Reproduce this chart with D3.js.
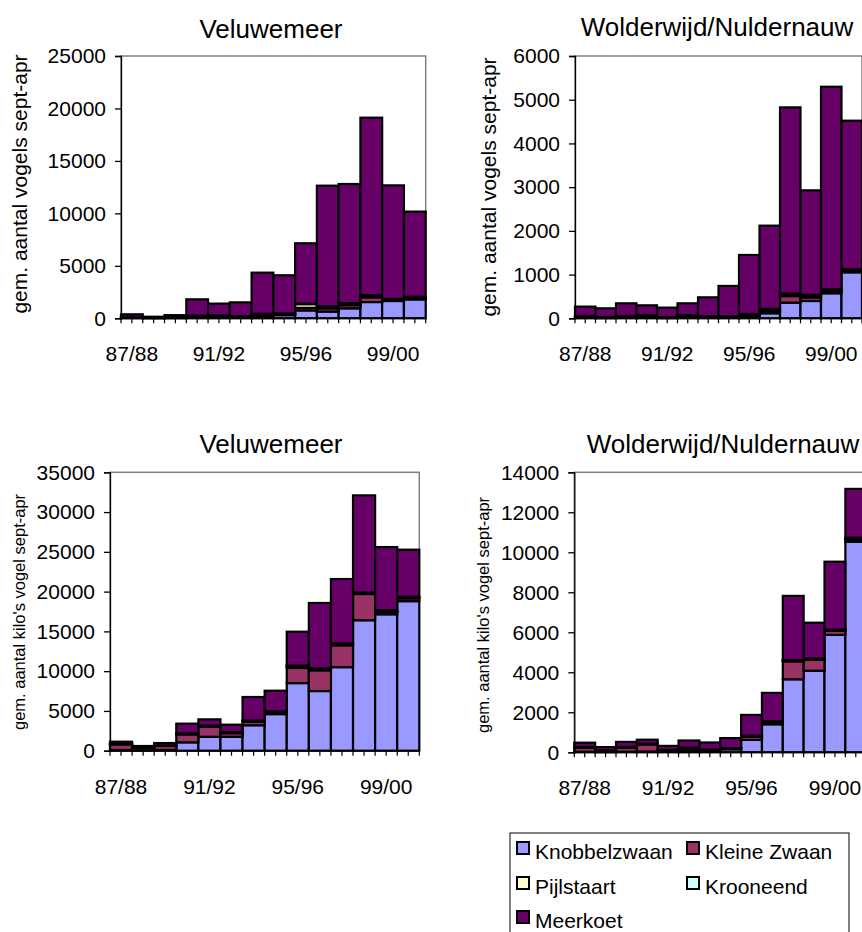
<!DOCTYPE html>
<html>
<head>
<meta charset="utf-8">
<script src="https://cdn.jsdelivr.net/npm/d3@7"></script>
<style>
  body { margin: 0; background: #fff; }
  svg { display: block; font-family: "Liberation Sans", Arial, sans-serif; }
</style>
</head>
<body>
<svg width="862" height="932"></svg>
<script>
// seizoenen sept-apr
var seasons = ["87/88", "88/89", "89/90", "90/91", "91/92", "92/93", "93/94",
               "94/95", "95/96", "96/97", "97/98", "98/99", "99/00", "00/01"];
var shownSeasons = ["87/88", "91/92", "95/96", "99/00"];
var species = ["Knobbelzwaan", "Kleine Zwaan", "Pijlstaart", "Krooneend", "Meerkoet"];
var speciesColors = ["#9999ff", "#993366", "#ffffcc", "#ccffff", "#660066"];

// Veluwemeer - aantal vogels
var velAantalKnobbel = [30, 10, 20, 60, 80, 60, 200, 300, 750, 640, 950, 1550, 1650, 1800];
var velAantalKleine  = [40, 20, 40, 100, 100, 80, 100, 60, 250, 300, 300, 450, 50, 100];
var velAantalPijl    = [10, 5, 10, 20, 20, 20, 40, 40, 350, 150, 150, 100, 50, 50];
var velAantalKroon   = [20, 10, 20, 80, 80, 60, 100, 60, 50, 50, 50, 100, 100, 100];
var velAantalMeer    = [280, 105, 210, 1550, 1120, 1300, 3910, 3640, 5750, 11500, 11350, 16920, 10820, 8120];

// Wolderwijd/Nuldernauw - aantal vogels
var wolAantalKnobbel = [10, 5, 10, 10, 5, 10, 10, 10, 20, 115, 358, 396, 572, 1052];
var wolAantalKleine  = [20, 10, 20, 40, 10, 20, 10, 10, 20, 30, 150, 80, 30, 20];
var wolAantalPijl    = [5, 5, 5, 5, 5, 5, 5, 5, 10, 20, 20, 20, 20, 20];
var wolAantalKroon   = [20, 10, 20, 20, 10, 40, 20, 20, 50, 50, 40, 40, 40, 30];
var wolAantalMeer    = [212, 199, 288, 222, 214, 268, 435, 695, 1348, 1904, 4257, 2391, 4635, 3398];

// Veluwemeer - kilo's vogel
var velKiloKnobbel = [100, 50, 100, 1050, 1750, 1750, 3200, 4600, 8500, 7500, 10500, 16400, 17150, 18800];
var velKiloKleine  = [700, 300, 500, 1000, 1250, 450, 450, 200, 1900, 2600, 2750, 3300, 300, 350];
var velKiloPijl    = [20, 10, 20, 100, 100, 100, 100, 100, 200, 150, 150, 100, 100, 100];
var velKiloKroon   = [20, 10, 20, 50, 50, 50, 50, 50, 100, 100, 100, 100, 100, 100];
var velKiloMeer    = [290, 220, 320, 1200, 790, 920, 2950, 2590, 4260, 8220, 8080, 12200, 7950, 5920];

// Wolderwijd/Nuldernauw - kilo's vogel
var wolKiloKnobbel = [30, 10, 30, 40, 20, 80, 50, 150, 620, 1400, 3650, 4080, 5870, 10530];
var wolKiloKleine  = [200, 60, 200, 350, 80, 120, 50, 20, 150, 60, 900, 550, 200, 100];
var wolKiloPijl    = [20, 10, 20, 20, 10, 20, 20, 20, 30, 40, 30, 30, 30, 50];
var wolKiloKroon   = [20, 10, 20, 20, 10, 20, 20, 20, 30, 50, 30, 30, 30, 50];
var wolKiloMeer    = [210, 170, 250, 200, 200, 350, 350, 500, 1040, 1420, 3210, 1790, 3400, 2440];

var svg = d3.select("svg");
var font = "Liberation Sans, Arial, sans-serif";

var panels = [
  { title: "Veluwemeer", tx: 271, ty: 38, ylab: "gem. aantal vogels sept-apr", ylabSize: 21, lx: 27, ly: 184,
    max: 25000, step: 5000, left: 121, right: 425.7, top: 56, bottom: 318.3, lblY: 361,
    series: [velAantalKnobbel, velAantalKleine, velAantalPijl, velAantalKroon, velAantalMeer] },
  { title: "Wolderwijd/Nuldernauw", tx: 717, ty: 36, ylab: "gem. aantal vogels sept-apr", ylabSize: 21, lx: 496, ly: 187,
    max: 6000, step: 1000, left: 575, right: 862, top: 56, bottom: 318.3, lblY: 361,
    series: [wolAantalKnobbel, wolAantalKleine, wolAantalPijl, wolAantalKroon, wolAantalMeer] },
  { title: "Veluwemeer", tx: 271, ty: 453, ylab: "gem. aantal kilo's vogel sept-apr", ylabSize: 16.5, lx: 25, ly: 612,
    max: 35000, step: 5000, left: 110, right: 419.3, top: 472.3, bottom: 750.7, lblY: 794,
    series: [velKiloKnobbel, velKiloKleine, velKiloPijl, velKiloKroon, velKiloMeer] },
  { title: "Wolderwijd/Nuldernauw", tx: 723, ty: 453, ylab: "gem. aantal kilo's vogel sept-apr", ylabSize: 16.5, lx: 489, ly: 615,
    max: 14000, step: 2000, left: 574.3, right: 866.2, top: 472.3, bottom: 752.3, lblY: 795,
    series: [wolKiloKnobbel, wolKiloKleine, wolKiloPijl, wolKiloKroon, wolKiloMeer] }
];

panels.forEach(function(p) {
  var g = svg.append("g");

  var x = d3.scaleBand().domain(seasons).range([p.left, p.right]).padding(0);
  var y = d3.scaleLinear().domain([0, p.max]).range([p.bottom, p.top]);

  var rows = seasons.map(function(s, i) {
    var row = { season: s };
    species.forEach(function(sp, k) { row[sp] = p.series[k][i]; });
    return row;
  });
  var stacked = d3.stack().keys(species)(rows);

  // plot area frame (grey, like excel)
  g.append("rect")
    .attr("x", p.left).attr("y", p.top)
    .attr("width", p.right - p.left).attr("height", p.bottom - p.top)
    .attr("fill", "none").attr("stroke", "#808080").attr("stroke-width", 1.5);

  g.selectAll("g.layer")
    .data(stacked)
    .enter().append("g")
    .attr("class", "layer")
    .attr("fill", function(d, i) { return speciesColors[i]; })
    .selectAll("rect")
    .data(function(d) { return d; })
    .enter().append("rect")
    .attr("x", function(d) { return x(d.data.season); })
    .attr("width", x.bandwidth())
    .attr("y", function(d) { return y(d[1]); })
    .attr("height", function(d) { return y(d[0]) - y(d[1]); })
    .attr("stroke", "#000")
    .attr("stroke-width", 2.2);

  // y axis
  var yAxis = d3.axisLeft(y)
    .tickValues(d3.range(0, p.max + 1, p.step))
    .tickSize(6).tickPadding(9)
    .tickFormat(d3.format("d"));
  var ya = g.append("g").attr("transform", "translate(" + p.left + ",0)").call(yAxis);
  ya.select(".domain").attr("stroke", "#000").attr("stroke-width", 1.3);
  ya.selectAll(".tick line").attr("stroke-width", 1.3);
  ya.selectAll("text").attr("font-size", 21).attr("font-family", font).attr("fill", "#000");

  // x axis: ticks every half category, labels every 4th season
  var half = x.bandwidth() / 2;
  g.append("line")
    .attr("x1", p.left).attr("x2", p.right)
    .attr("y1", p.bottom).attr("y2", p.bottom)
    .attr("stroke", "#000").attr("stroke-width", 1.5);
  g.selectAll("line.xt")
    .data(d3.range(0, seasons.length * 2 + 1))
    .enter().append("line")
    .attr("class", "xt")
    .attr("x1", function(i) { return p.left + i * half; })
    .attr("x2", function(i) { return p.left + i * half; })
    .attr("y1", p.bottom).attr("y2", p.bottom + 5)
    .attr("stroke", "#000").attr("stroke-width", 1.2);
  g.selectAll("text.xl")
    .data(shownSeasons)
    .enter().append("text")
    .attr("class", "xl")
    .attr("x", function(d) { return x(d) + half; })
    .attr("y", p.lblY)
    .attr("text-anchor", "middle")
    .attr("font-size", 21)
    .text(function(d) { return d; });

  g.append("text")
    .attr("x", p.tx).attr("y", p.ty)
    .attr("text-anchor", "middle")
    .attr("font-size", 26)
    .text(p.title);

  g.append("text")
    .attr("transform", "translate(" + p.lx + "," + p.ly + ") rotate(-90)")
    .attr("text-anchor", "middle")
    .attr("font-size", p.ylabSize)
    .text(p.ylab);
});

// legend
var leg = svg.append("g");
leg.append("rect")
  .attr("x", 510).attr("y", 833).attr("width", 339).attr("height", 120)
  .attr("fill", "#fff").attr("stroke", "#000").attr("stroke-width", 1);

var legPos = [[517, 842], [687, 842], [517, 877], [687, 877], [517, 911]];
var item = leg.selectAll("g.item")
  .data(species)
  .enter().append("g")
  .attr("class", "item")
  .attr("transform", function(d, i) { return "translate(" + legPos[i][0] + "," + legPos[i][1] + ")"; });
item.append("rect")
  .attr("width", 12).attr("height", 12)
  .attr("fill", function(d, i) { return speciesColors[i]; })
  .attr("stroke", "#000").attr("stroke-width", 2);
item.append("text")
  .attr("x", 18).attr("y", 17)
  .attr("font-size", 21)
  .text(function(d) { return d; });
</script>
</body>
</html>
